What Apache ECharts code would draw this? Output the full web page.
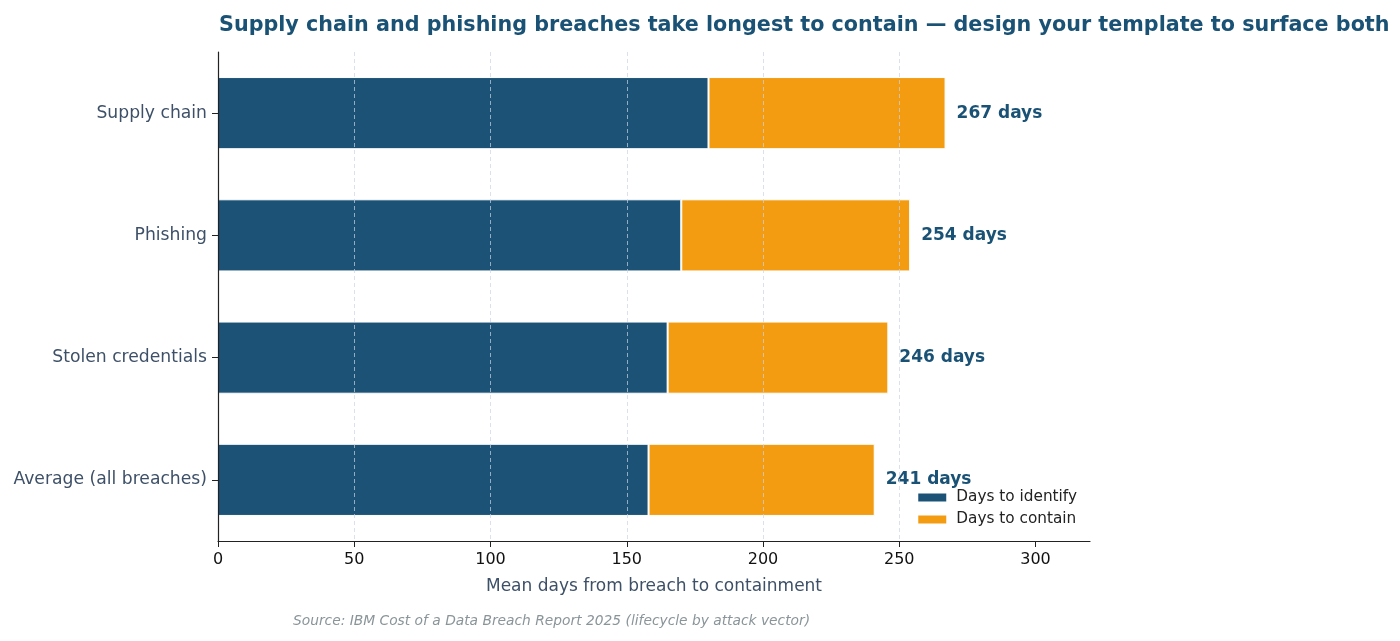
<!DOCTYPE html>
<html>
<head>
<meta charset="utf-8">
<script src="https://cdn.jsdelivr.net/npm/echarts@6/dist/echarts.min.js"></script>
<style>
  html, body { margin: 0; padding: 0; background: #fff; }
  #chart { width: 1400px; height: 641px; }
</style>
</head>
<body>
<div id="chart"></div>
<script>
// data, bottom to top
const vectors = ['Average (all breaches)', 'Stolen credentials', 'Phishing', 'Supply chain']
const identifyDays = [158, 165, 170, 180]
const containDays = [83, 81, 84, 87]
const totalDays = [241, 246, 254, 267]
const xTicks = [0, 50, 100, 150, 200, 250, 300]

const font = 'DejaVu Sans'
const chart = echarts.init(document.getElementById('chart'))

const option = {
  backgroundColor: '#fff',
  animation: false,
  title: {
    text: 'Supply chain and phishing breaches take longest to contain — design your template to surface both',
    left: 214,
    top: 10,
    textStyle: { fontFamily: font, fontSize: 20.7, fontWeight: 'bold', color: '#1a5276' }
  },
  grid: { left: 218, right: 310, top: 52, bottom: 100 },
  legend: {
    orient: 'vertical',
    right: 318,
    top: 485,
    itemWidth: 30,
    itemHeight: 10,
    itemGap: 7,
    icon: 'rect',
    textStyle: { fontFamily: font, fontSize: 15.3, color: '#222', padding: [0, 0, 0, 4] },
    data: ['Days to identify', 'Days to contain']
  },
  xAxis: {
    type: 'value',
    min: 0,
    max: 320,
    interval: 50,
    z: 5,
    name: 'Mean days from breach to containment',
    nameLocation: 'middle',
    nameGap: 37,
    nameTextStyle: { fontFamily: font, fontSize: 17, color: '#3d5068' },
    axisLine: { show: true, lineStyle: { color: '#222', width: 1.2 } },
    axisTick: { show: true, length: 6, customValues: xTicks, lineStyle: { color: '#222' } },
    axisLabel: {
      fontFamily: font, fontSize: 16, color: '#111', margin: 11,
      customValues: xTicks
    },
    splitLine: {
      show: true,
      showMinLine: false,
      showMaxLine: false,
      lineStyle: { color: 'rgba(200,212,228,0.7)', type: [4, 3], width: 1 }
    }
  },
  yAxis: {
    type: 'category',
    data: vectors,
    z: 6,
    axisLine: { show: true, lineStyle: { color: '#222', width: 1.2 } },
    axisTick: { show: true, alignWithLabel: true, length: 6, lineStyle: { color: '#222' } },
    axisLabel: { fontFamily: font, fontSize: 17.2, color: '#3d5068', margin: 11 },
    splitLine: { show: false }
  },
  series: [
    {
      name: 'Days to identify',
      type: 'bar',
      stack: 'total',
      data: identifyDays,
      barWidth: '59%',
      itemStyle: { color: '#1b5276', borderColor: '#fff', borderWidth: 1 }
    },
    {
      name: 'Days to contain',
      type: 'bar',
      stack: 'total',
      data: containDays,
      itemStyle: { color: '#f39c12', borderColor: '#fff', borderWidth: 1 },
      label: {
        show: true,
        position: 'right',
        distance: 11,
        fontFamily: font,
        fontSize: 17,
        fontWeight: 'bold',
        color: '#1a5276',
        formatter: p => totalDays[p.dataIndex] + ' days'
      }
    }
  ],
  graphic: [{
    type: 'text',
    left: 293,
    top: 614,
    style: {
      text: 'Source: IBM Cost of a Data Breach Report 2025 (lifecycle by attack vector)',
      fontFamily: font,
      fontSize: 13.8,
      fontStyle: 'italic',
      fill: '#8a9599'
    }
  }]
}

chart.setOption(option)
window.addEventListener('resize', () => chart.resize())
</script>
</body>
</html>
